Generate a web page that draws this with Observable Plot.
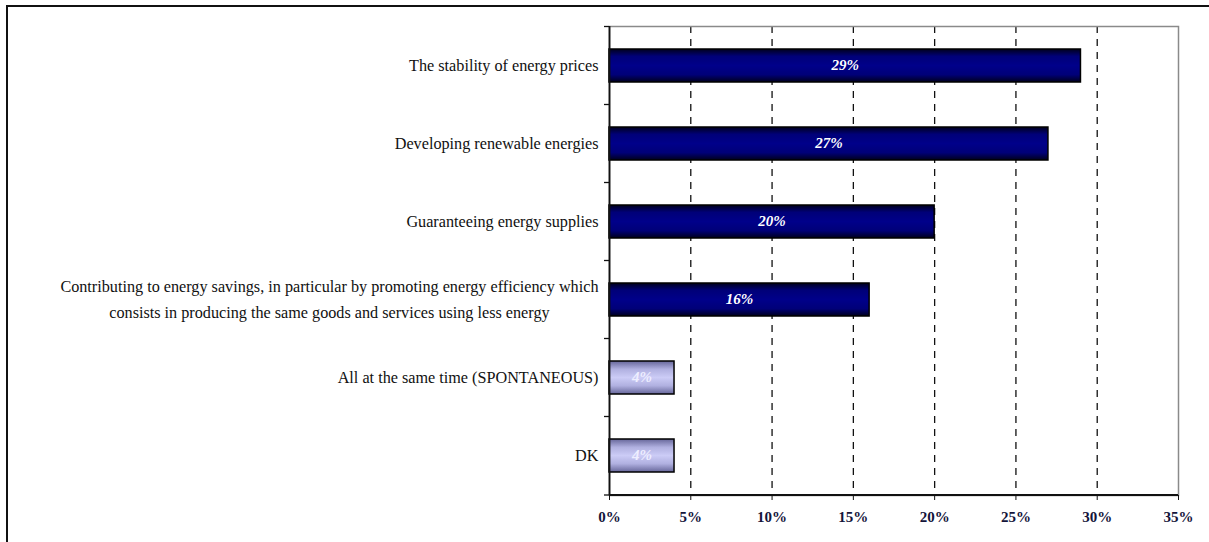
<!DOCTYPE html>
<html>
<head>
<meta charset="utf-8">
<script src="https://cdn.jsdelivr.net/npm/d3@7"></script>
<script src="https://cdn.jsdelivr.net/npm/@observablehq/plot@0.6"></script>
<style>
  html, body { margin: 0; padding: 0; background: #fff; overflow: hidden; }
  #wrap { position: relative; width: 1209px; height: 542px; }
  #wrap svg { position: absolute; left: 0; top: 0; }
  #border {
    position: absolute; left: 6px; top: 5px; width: 1400px; height: 800px;
    border-left: 2.5px solid #111; border-top: 2.5px solid #111; pointer-events: none;
  }
</style>
</head>
<body>
<div id="wrap"><div id="border"></div></div>
<script>
// Survey answers, top to bottom
const categories = [
  "The stability of energy prices",
  "Developing renewable energies",
  "Guaranteeing energy supplies",
  "Contributing to energy savings, in particular by promoting energy efficiency which consists in producing the same goods and services using less energy",
  "All at the same time (SPONTANEOUS)",
  "DK"
];
const shares = [29, 27, 20, 16, 4, 4];
const groups = ["main", "main", "main", "main", "other", "other"];
const xTicks = [0, 5, 10, 15, 20, 25, 30, 35];
const gridTicks = [5, 10, 15, 20, 25, 30];

const rows = categories.map((c, i) => ({category: c, share: shares[i], group: groups[i]}));

const serif = "'Liberation Serif', 'Times New Roman', serif";

// wrap long answer texts onto several lines
function wrap(text, max = 84) {
  const words = text.split(" ");
  const lines = [];
  let line = "";
  for (const w of words) {
    if (line && (line + " " + w).length > max) { lines.push(line); line = w; }
    else line = line ? line + " " + w : w;
  }
  lines.push(line);
  return lines.join("\n");
}

// gradient fills, left-axis band ticks and the black bottom axis line
function extras(index, scales, values, dimensions) {
  const {width, height, marginLeft, marginRight, marginBottom, marginTop} = dimensions;
  const g = d3.create("svg:g");
  const defs = g.append("defs");
  const grad = (id, stops) => {
    const lg = defs.append("linearGradient").attr("id", id)
      .attr("x1", 0).attr("y1", 0).attr("x2", 0).attr("y2", 1);
    stops.forEach(([o, c]) => lg.append("stop").attr("offset", o).attr("stop-color", c));
  };
  grad("navyFill", [[0, "#00001c"], [0.22, "#000078"], [0.5, "#00008a"], [0.78, "#000078"], [1, "#00001c"]]);
  grad("lilacFill", [[0, "#66669a"], [0.25, "#b0b0e0"], [0.5, "#ccccf6"], [0.75, "#b0b0e0"], [1, "#66669a"]]);

  const y = scales.y;
  const n = categories.length;
  const step = y.step ? y.step() : (height - marginTop - marginBottom) / n;
  const bw = y.bandwidth ? y.bandwidth() : step * 0.42;
  const bounds = categories.map(c => y(c) - (step - bw) / 2).concat([height - marginBottom]);
  g.append("g").selectAll("line").data(bounds).join("line")
    .attr("x1", marginLeft - 5).attr("x2", marginLeft)
    .attr("y1", d => d).attr("y2", d => d)
    .attr("stroke", "#111").attr("stroke-width", 1.3);
  g.append("line")
    .attr("x1", marginLeft).attr("x2", width - marginRight)
    .attr("y1", height - marginBottom).attr("y2", height - marginBottom)
    .attr("stroke", "#111").attr("stroke-width", 1.8);
  return g.node();
}

const chart = Plot.plot({
  width: 1209,
  height: 542,
  marginLeft: 609,
  marginRight: 31,
  marginTop: 26,
  marginBottom: 47,
  style: {background: "transparent", fontFamily: serif},
  x: {domain: [0, 35]},
  y: {domain: categories, paddingInner: 0.58, paddingOuter: 0.29},
  marks: [
    Plot.ruleX(gridTicks, {stroke: "#111", strokeWidth: 1.3, strokeDasharray: "7,6"}),
    Plot.frame({stroke: "#8a8a8a", strokeWidth: 1.5}),
    Plot.barX(rows.filter(d => d.group === "main"), {
      x: "share", y: "category", fill: "url(#navyFill)", stroke: "#000", strokeWidth: 1.5
    }),
    Plot.barX(rows.filter(d => d.group === "other"), {
      x: "share", y: "category", fill: "url(#lilacFill)", stroke: "#000", strokeWidth: 1.5
    }),
    Plot.text(rows, {
      x: d => d.share / 2, y: "category", text: d => `${d.share}%`,
      fill: d => d.group === "main" ? "#ffffff" : "#eeeeff",
      fontSize: 15, fontWeight: "bold", fontStyle: "italic", fontFamily: serif, dy: -1
    }),
    Plot.ruleX([0], {stroke: "#111", strokeWidth: 1.8}),
    extras,
    Plot.axisX({
      ticks: xTicks, tickFormat: d => `${d}%`, tickSize: 5, tickPadding: 11,
      fontSize: 15, fontWeight: "bold", fontFamily: serif, fill: "#14143a", stroke: "#111", label: null
    }),
    Plot.axisY({
      tickSize: 0, tickPadding: 11, tickFormat: d => wrap(d), dy: -3,
      fontSize: 16.2, fontFamily: serif, fill: "#111", lineHeight: 1.55, label: null
    })
  ]
});

document.getElementById("wrap").prepend(chart);

// centre the lines of multi-line answer labels on each other
chart.querySelectorAll("text").forEach(t => {
  const spans = t.querySelectorAll("tspan");
  if (spans.length < 2) return;
  const w = Math.max(...Array.from(spans, s => s.getComputedTextLength()));
  t.setAttribute("text-anchor", "middle");
  spans.forEach(s => s.setAttribute("x", -w / 2));
});
</script>
</body>
</html>
